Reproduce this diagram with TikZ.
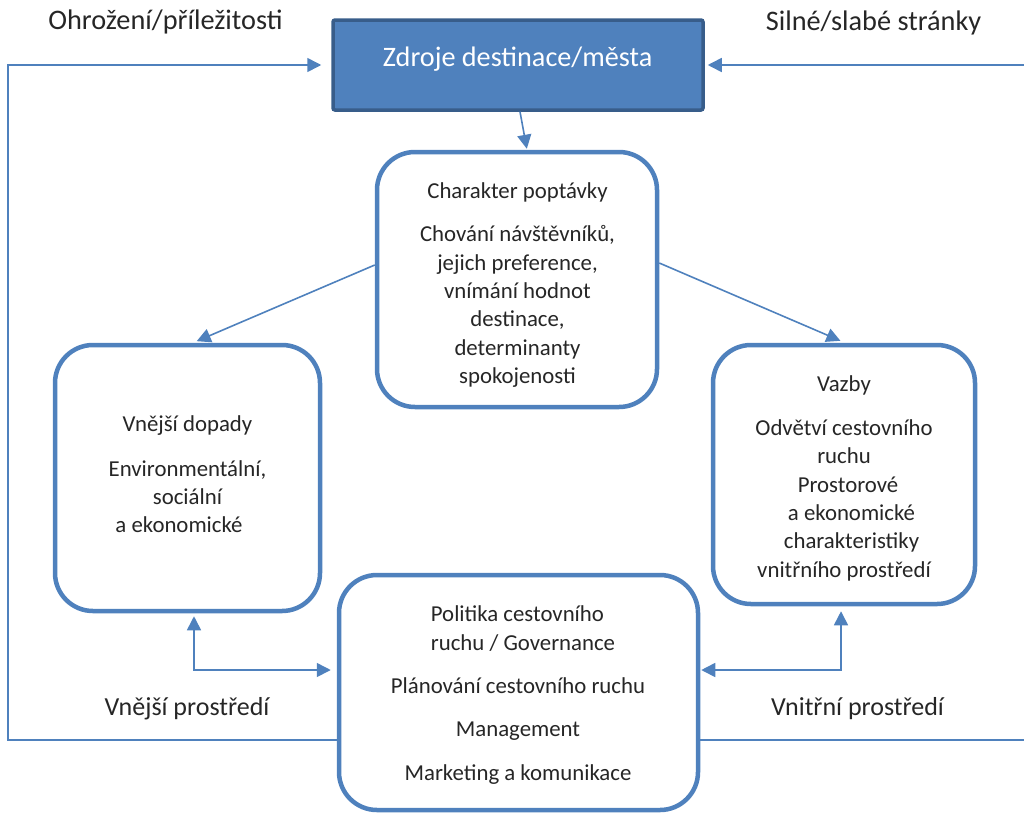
\documentclass[tikz,border=0pt]{standalone}
\usepackage{fontspec}
\setmainfont{Carlito}
\usepackage{calc}
\usetikzlibrary{arrows.meta}
\definecolor{acc}{HTML}{4F81BD}
\definecolor{accdark}{HTML}{385D8A}
\definecolor{ink}{HTML}{262626}
\begin{document}
\begin{tikzpicture}[x=1pt,y=-1pt,
  rbox/.style={draw=acc, line width=4.5pt, rounded corners=38pt, fill=white, inner sep=0pt},
  tbox/.style={draw=accdark, line width=3.5pt, fill=acc, rounded corners=2pt, minimum width=370pt, minimum height=90pt, inner sep=0pt},
  btxt/.style={text=ink, align=center, inner sep=0pt, font=\fontsize{22.8}{28.4}\selectfont},
  otxt/.style={text=ink, inner sep=0pt, font=\fontsize{28.3}{34}\selectfont, anchor=base},
  otxtb/.style={text=ink, inner sep=0pt, font=\fontsize{26}{31}\selectfont, anchor=base},
  conn/.style={draw=acc, line width=1.6pt},
  tip/.style={-{Triangle[length=14pt,width=14pt]}},
  dtip/.style={{Triangle[length=14pt,width=14pt]}-{Triangle[length=14pt,width=14pt]}},
]
\useasboundingbox (0,0) rectangle (1024,814);

% boxes
\node[tbox] (top) at (518,65) {};
\node[text=white, inner sep=0pt, font=\fontsize{28.2}{34}\selectfont, anchor=base] (toptxt) at (517.5,66.7) {Zdroje destinace/města};

\node[rbox, minimum width=280pt, minimum height=255pt] (center) at (517,279.5) {};
\node[rbox, minimum width=265pt, minimum height=266pt] (left) at (187.5,478) {};
\node[rbox, minimum width=262pt, minimum height=259pt] (right) at (844,474.5) {};
\node[rbox, minimum width=359pt, minimum height=235pt] (bottom) at (518.5,692.5) {};

% box texts
\node[btxt] (centertxt) at (517.5,285) {Charakter poptávky\\[15pt]
Chování návštěvníků,\\ jejich preference,\\ vnímání hodnot\\ destinace,\\ determinanty\\ spokojenosti};

\node[btxt] (lefttxt) at (187.5,474.5) {Vnější dopady\\[16pt]
Environmentální,\\ sociální\hspace*{18pt}\\ a ekonomické\hspace*{17pt}};

\node[btxt] (righttxt) at (844,478.5) {Vazby\\[15pt]
Odvětví cestovního\\ ruchu\\ \hspace*{8pt}Prostorové\\ \hspace*{15pt}a ekonomické\\ \hspace*{15pt}charakteristiky\\ vnitřního prostředí};

\node[btxt] (bottomtxt) at (518,695) {\hspace*{10pt}\makebox[\widthof{ruchu / Governance}][l]{Politika cestovního}\\
\hspace*{10pt}ruchu / Governance\\[15pt]
Plánování cestovního ruchu\\[15pt]
Management\\[15pt]
Marketing a komunikace};

% outer labels
\node[otxt] (ohr) at (165.5,29) {Ohrožení/příležitosti};
\node[otxt] (sil) at (873.5,30) {Silné/slabé stránky};
\node[otxtb] (vnej) at (187,715) {Vnější prostředí};
\node[otxtb] (vnit) at (857.5,715) {Vnitřní prostředí};

% free-end coordinates
\coordinate (lcorner) at (8,65);
\coordinate (rtop) at (1024,65);
\coordinate (rbot) at (1024,740);

% connectors
\draw[conn, tip, shorten >=1pt] ([xshift=2pt]top.south) -- ([xshift=10pt]center.north);
\draw[conn, tip, shorten >=4pt] ([yshift=14.5pt]center.west) -- ([xshift=5.5pt]left.north);
\draw[conn, tip, shorten >=5pt] ([yshift=16.5pt]center.east) -- ([xshift=1pt]right.north);
\draw[conn, dtip, shorten <=3pt, shorten >=6pt] ([xshift=6.5pt]left.south) |- ([yshift=22.5pt]bottom.west);
\draw[conn, dtip, shorten <=5pt, shorten >=1pt] ([xshift=-3pt]right.south) |- ([yshift=22.5pt]bottom.east);
\draw[conn, tip, shorten >=10pt] ([yshift=-47.5pt]bottom.west) -| (lcorner) -- (top.west);
\draw[conn, tip, shorten >=3pt] (rtop) -- (top.east);
\draw[conn] ([yshift=-47.5pt]bottom.east) -- (rbot);
\end{tikzpicture}
\end{document}
